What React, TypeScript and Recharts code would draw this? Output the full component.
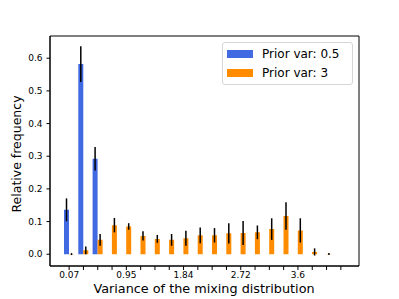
import { BarChart, Bar, XAxis, YAxis, ErrorBar, Legend, Label, CartesianGrid } from 'recharts'

// bin labels of the mixing-distribution variance histogram
const categories = [
  '0.07', '0.29', '0.51', '0.73', '0.95', '1.17', '1.40', '1.62', '1.84', '2.06',
  '2.28', '2.50', '2.72', '2.94', '3.16', '3.38', '3.6', '3.82', '4.04', '4.26',
]
const shownTicks = ['0.07', '0.95', '1.84', '2.72', '3.6']
const yTicks = [0, 0.1, 0.2, 0.3, 0.4, 0.5, 0.6]

const blueVals = [0.136, 0.582, 0.292, 0, 0, 0, 0, 0, 0, 0, 0, 0, 0, 0, 0, 0, 0, 0, 0, 0]
const blueErr = [0.035, 0.055, 0.036, 0, 0, 0, 0, 0, 0, 0, 0, 0, 0, 0, 0, 0, 0, 0, 0, 0]
const orangeVals = [
  0.0005, 0.012, 0.044, 0.089, 0.085, 0.056, 0.047, 0.044, 0.049, 0.058,
  0.058, 0.064, 0.065, 0.067, 0.077, 0.117, 0.073, 0.007, 0.0005, 0,
]
const orangeErr = [
  0.003, 0.012, 0.018, 0.022, 0.01, 0.014, 0.012, 0.018, 0.023, 0.024,
  0.022, 0.031, 0.037, 0.021, 0.033, 0.042, 0.037, 0.011, 0.003, 0,
]

const series = [
  { key: 'blue', name: 'Prior var: 0.5', color: '#4169E1' },
  { key: 'orange', name: 'Prior var: 3', color: '#FF8C00' },
]

const data = categories.map((c, i) => ({
  bin: c,
  blue: blueVals[i],
  blueErr: blueErr[i],
  orange: orangeVals[i],
  orangeErr: orangeErr[i],
}))

const FONT = 'DejaVu Sans, sans-serif'
const Y_DOMAIN: [number, number] = [-0.036, 0.668]

const renderLegend = () => (
  <div
    style={{
      border: '1px solid #d6d6d6',
      borderRadius: 3,
      background: 'rgba(255,255,255,0.8)',
      padding: '1px 4px',
      boxSizing: 'border-box',
      width: 131,
      height: 43,
      fontFamily: FONT,
      fontSize: 12,
      color: '#000',
    }}
  >
    {series.map(s => (
      <div key={s.key} style={{ display: 'flex', alignItems: 'center', height: 19 }}>
        <span style={{ display: 'inline-block', width: 26, height: 8, background: s.color, marginRight: 9 }} />
        {s.name}
      </div>
    ))}
  </div>
)

// frame around the plot area (matplotlib-style spines)
const frameX = ({ offset }: any) => [offset.left, offset.left + offset.width]
const frameY = ({ offset }: any) => [offset.top, offset.top + offset.height]

export default function App() {
  return (
    <div style={{ position: 'absolute', left: 0, top: 0, background: '#fff' }}>
      <BarChart
        width={399}
        height={299}
        data={data}
        margin={{ top: 36, right: 40, left: 0, bottom: 0 }}
        barSize={5}
        barGap={0}
      >
        <CartesianGrid
          stroke="#000"
          strokeWidth={1}
          verticalCoordinatesGenerator={frameX}
          horizontalCoordinatesGenerator={frameY}
        />
        <XAxis
          dataKey="bin"
          interval={0}
          padding={{ left: 12, right: 11 }}
          height={33}
          tickSize={4}
          tickMargin={2}
          tickFormatter={(v: string) => (shownTicks.includes(v) ? v : '')}
          tick={{ fontSize: 9, fill: '#000', fontFamily: FONT }}
          tickLine={{ stroke: '#000' }}
          axisLine={{ stroke: '#000' }}
        >
          <Label
            content={() => (
              <text x={204} y={293} textAnchor="middle" fontSize={12.8} fontFamily={FONT} fill="#000">
                Variance of the mixing distribution
              </text>
            )}
          />
        </XAxis>
        <YAxis
          width={50}
          domain={Y_DOMAIN}
          ticks={yTicks}
          allowDataOverflow
          tickSize={3.5}
          tickMargin={4}
          tickFormatter={(v: number) => v.toFixed(1)}
          tick={{ fontSize: 9, fill: '#000', fontFamily: FONT }}
          tickLine={{ stroke: '#000' }}
          axisLine={{ stroke: '#000' }}
        >
          <Label
            content={() => (
              <text
                x={16}
                y={154}
                transform="rotate(-90 16 154)"
                textAnchor="middle"
                dominantBaseline="central"
                fontSize={12.5}
                fontFamily={FONT}
                fill="#000"
              >
                Relative frequency
              </text>
            )}
          />
        </YAxis>
        <Legend
          layout="vertical"
          align="center"
          verticalAlign="middle"
          content={renderLegend}
          wrapperStyle={{ left: 222, top: 42, width: 131, height: 43 }}
        />
        {series.map(s => (
          <Bar key={s.key} dataKey={s.key} name={s.name} fill={s.color} isAnimationActive={false}>
            <ErrorBar dataKey={`${s.key}Err`} width={0} stroke="#000" strokeWidth={1.5} />
          </Bar>
        ))}
      </BarChart>
    </div>
  )
}
